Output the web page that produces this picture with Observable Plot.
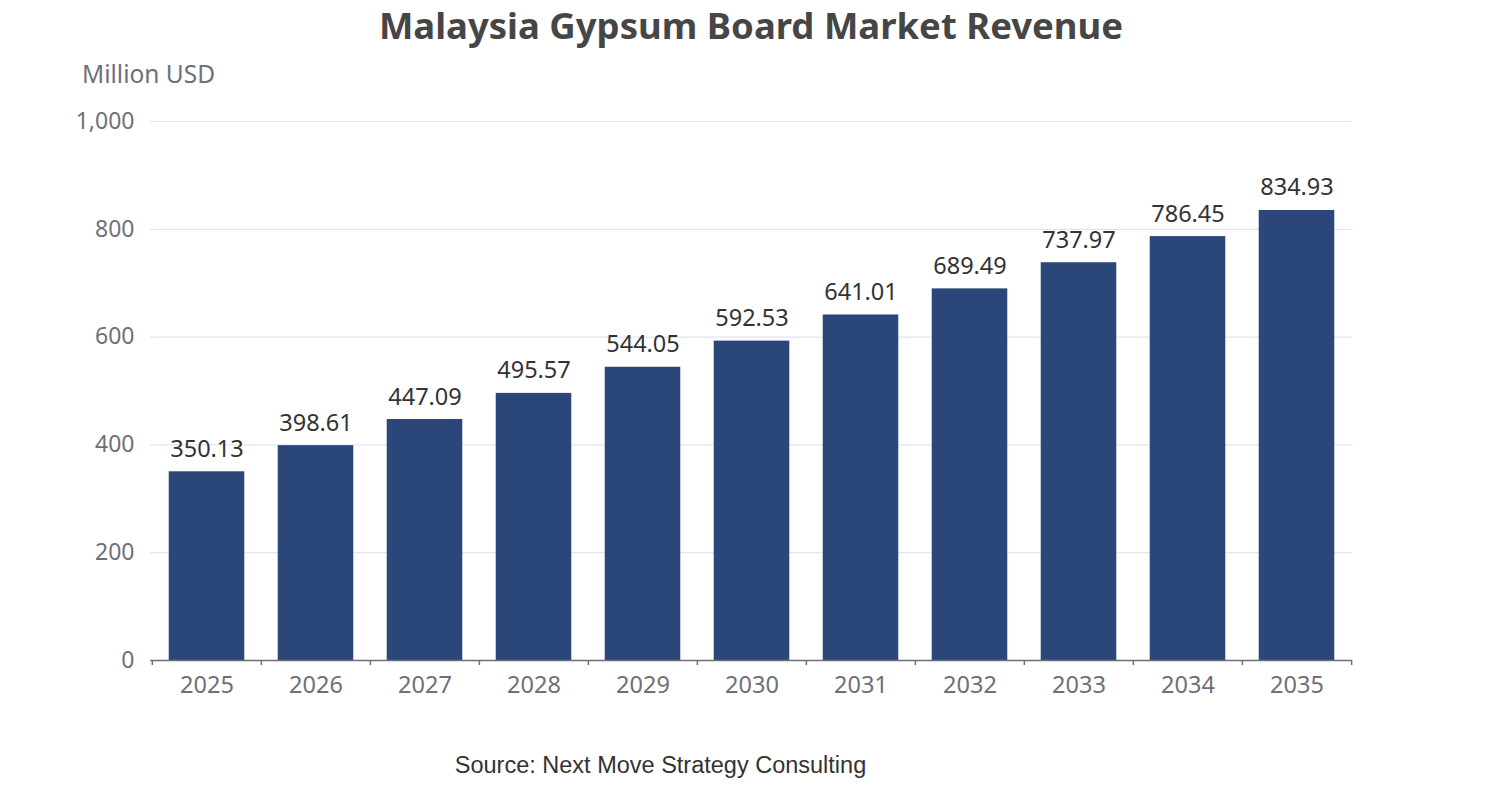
<!DOCTYPE html>
<html>
<head>
<meta charset="utf-8">
<script src="https://cdn.jsdelivr.net/npm/d3@7"></script>
<script src="https://cdn.jsdelivr.net/npm/@observablehq/plot@0.6"></script>
<style>
  html, body { margin: 0; padding: 0; background: #fff; }
  #wrap { position: relative; width: 1502px; height: 800px; font-family: "Noto Sans", "Open Sans", sans-serif; }
  #title { position: absolute; left: 0; width: 1502px; top: 0px; text-align: center; font-size: 36.5px; font-weight: bold; color: #464646; }
  #unit { position: absolute; left: 82px; top: 57px; font-size: 24.5px; color: #6e7079; }
  #source { position: absolute; left: 0; width: 1321px; top: 752px; text-align: center; font-size: 23.5px; color: #333; font-family: "Liberation Sans", Arial, sans-serif; }
  #chart { position: absolute; left: 0; top: 0; }
</style>
</head>
<body>
<div id="wrap">
  <div id="chart"></div>
  <div id="title">Malaysia Gypsum Board Market Revenue</div>
  <div id="unit">Million USD</div>
  <div id="source">Source: Next Move Strategy Consulting</div>
</div>
<script>
const years = ["2025","2026","2027","2028","2029","2030","2031","2032","2033","2034","2035"];
const revenue = [350.13, 398.61, 447.09, 495.57, 544.05, 592.53, 641.01, 689.49, 737.97, 786.45, 834.93];
const yTicks = [0, 200, 400, 600, 800, 1000];

const data = years.map((y, i) => ({year: y, value: revenue[i]}));
const W = 1502, H = 800, mL = 150, mR = 150, mT = 121, mB = 140;
const bw = (W - mL - mR) / years.length;
const unitPerPx = 1000 / (H - mT - mB);

const chart = Plot.plot({
  width: W, height: H,
  marginLeft: mL, marginRight: mR, marginTop: mT, marginBottom: mB,
  style: {fontFamily: "'Noto Sans', 'Open Sans', sans-serif", background: "#fff"},
  x: {domain: years, padding: 0, label: null},
  y: {domain: [0, 1000], label: null},
  marks: [
    Plot.ruleY(yTicks.filter(d => d > 0), {stroke: "#e0e6f1", strokeWidth: 1.2}),
    Plot.barY(data, {x: "year", y: "value", fill: "#2b4779", insetLeft: bw * 0.153, insetRight: bw * 0.153}),
    Plot.ruleY([0], {stroke: "#6e7079", strokeWidth: 1.5}),
    Plot.ruleX(years, {x: d => d, dx: -bw / 2, y1: 0, y2: -5 * unitPerPx, stroke: "#6e7079", strokeWidth: 1.5}),
    Plot.ruleX([years[years.length - 1]], {x: d => d, dx: bw / 2, y1: 0, y2: -5 * unitPerPx, stroke: "#6e7079", strokeWidth: 1.5}),
    Plot.text(data, {x: "year", y: "value", text: d => d.value.toFixed(2), dy: -15, lineAnchor: "bottom", fontSize: 23.5, fill: "#333"}),
    Plot.axisY({ticks: yTicks, tickFormat: d3.format(","), tickSize: 0, tickPadding: 16, fontSize: 23, color: "#6e7079", label: null}),
    Plot.axisX({tickSize: 0, tickPadding: 16, fontSize: 23.5, color: "#6e7079", label: null})
  ]
});
document.getElementById("chart").appendChild(chart);
</script>
</body>
</html>
